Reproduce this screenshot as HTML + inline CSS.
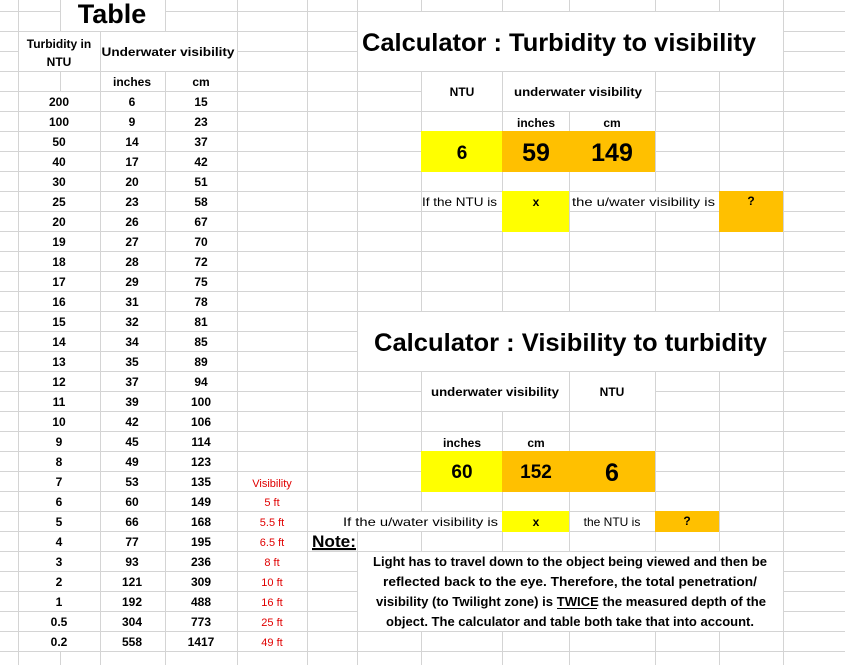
<!DOCTYPE html>
<html><head><meta charset="utf-8"><style>
html,body{margin:0;padding:0;background:#fff}
svg{display:block}
text{font-family:"Liberation Sans",Arial,sans-serif}
.b{font-weight:bold;font-size:12px;text-anchor:middle}
.r{font-size:11px;fill:#e00000;text-anchor:middle}
.n{font-size:12px}
</style></head><body>
<svg width="845" height="665" viewBox="0 0 845 665" xmlns="http://www.w3.org/2000/svg">
<defs>
<pattern id="h" x="0" y="11" width="845" height="20" patternUnits="userSpaceOnUse">
<rect x="0" y="0" width="845" height="1" fill="#d4d4d4"/>
</pattern>
</defs>
<rect width="845" height="665" fill="#fff"/>
<rect width="845" height="665" fill="url(#h)"/>
<g stroke="#d4d4d4" stroke-width="1">
<line x1="18.5" y1="0" x2="18.5" y2="665"/>
<line x1="60.5" y1="0" x2="60.5" y2="31"/>
<line x1="60.5" y1="71" x2="60.5" y2="91"/>
<line x1="60.5" y1="651" x2="60.5" y2="665"/>
<line x1="100.5" y1="31" x2="100.5" y2="665"/>
<line x1="165.5" y1="0" x2="165.5" y2="31"/>
<line x1="165.5" y1="71" x2="165.5" y2="665"/>
<line x1="237.5" y1="0" x2="237.5" y2="665"/>
<line x1="307.5" y1="0" x2="307.5" y2="665"/>
<line x1="357.5" y1="0" x2="357.5" y2="665"/>
<line x1="421.5" y1="0" x2="421.5" y2="665"/>
<line x1="502.5" y1="0" x2="502.5" y2="665"/>
<line x1="569.5" y1="0" x2="569.5" y2="665"/>
<line x1="655.5" y1="0" x2="655.5" y2="665"/>
<line x1="719.5" y1="0" x2="719.5" y2="665"/>
<line x1="783.5" y1="0" x2="783.5" y2="665"/>
</g>
<g fill="#fff">
<rect x="61" y="0" width="104" height="31"/>
<rect x="19" y="32" width="81" height="39"/>
<rect x="101" y="32" width="136" height="39"/>
<rect x="358" y="12" width="425" height="59"/>
<rect x="358" y="312" width="425" height="59"/>
<rect x="422" y="72" width="80" height="39"/>
<rect x="503" y="72" width="152" height="39"/>
<rect x="422" y="372" width="147" height="39"/>
<rect x="570" y="372" width="85" height="39"/>
<rect x="654" y="192" width="3" height="19"/>
<rect x="356" y="512" width="3" height="19"/>
<rect x="420" y="512" width="3" height="19"/>
<rect x="358" y="552" width="425" height="79"/>
</g>
<g>
<rect x="421" y="131" width="81" height="41" fill="#ffff00"/>
<rect x="502" y="131" width="153" height="41" fill="#ffc000"/>
<rect x="502" y="191" width="67" height="41" fill="#ffff00"/>
<rect x="719" y="191" width="64" height="41" fill="#ffc000"/>
<rect x="421" y="451" width="81" height="41" fill="#ffff00"/>
<rect x="502" y="451" width="153" height="41" fill="#ffc000"/>
<rect x="502" y="511" width="67" height="21" fill="#ffff00"/>
<rect x="655" y="511" width="64" height="21" fill="#ffc000"/>
</g>
<text x="112" y="23" style="font-weight:bold;font-size:27px;text-anchor:middle">Table</text>
<text x="59" y="48" class="b">Turbidity in</text>
<text x="59" y="66" class="b">NTU</text>
<text x="168" y="56" class="b" textLength="133" lengthAdjust="spacingAndGlyphs">Underwater visibility</text>
<text x="132" y="86" class="b">inches</text>
<text x="201" y="86" class="b">cm</text>
<g class="b">
<text x="59" y="106">200</text><text x="132" y="106">6</text><text x="201" y="106">15</text>
<text x="59" y="126">100</text><text x="132" y="126">9</text><text x="201" y="126">23</text>
<text x="59" y="146">50</text><text x="132" y="146">14</text><text x="201" y="146">37</text>
<text x="59" y="166">40</text><text x="132" y="166">17</text><text x="201" y="166">42</text>
<text x="59" y="186">30</text><text x="132" y="186">20</text><text x="201" y="186">51</text>
<text x="59" y="206">25</text><text x="132" y="206">23</text><text x="201" y="206">58</text>
<text x="59" y="226">20</text><text x="132" y="226">26</text><text x="201" y="226">67</text>
<text x="59" y="246">19</text><text x="132" y="246">27</text><text x="201" y="246">70</text>
<text x="59" y="266">18</text><text x="132" y="266">28</text><text x="201" y="266">72</text>
<text x="59" y="286">17</text><text x="132" y="286">29</text><text x="201" y="286">75</text>
<text x="59" y="306">16</text><text x="132" y="306">31</text><text x="201" y="306">78</text>
<text x="59" y="326">15</text><text x="132" y="326">32</text><text x="201" y="326">81</text>
<text x="59" y="346">14</text><text x="132" y="346">34</text><text x="201" y="346">85</text>
<text x="59" y="366">13</text><text x="132" y="366">35</text><text x="201" y="366">89</text>
<text x="59" y="386">12</text><text x="132" y="386">37</text><text x="201" y="386">94</text>
<text x="59" y="406">11</text><text x="132" y="406">39</text><text x="201" y="406">100</text>
<text x="59" y="426">10</text><text x="132" y="426">42</text><text x="201" y="426">106</text>
<text x="59" y="446">9</text><text x="132" y="446">45</text><text x="201" y="446">114</text>
<text x="59" y="466">8</text><text x="132" y="466">49</text><text x="201" y="466">123</text>
<text x="59" y="486">7</text><text x="132" y="486">53</text><text x="201" y="486">135</text>
<text x="59" y="506">6</text><text x="132" y="506">60</text><text x="201" y="506">149</text>
<text x="59" y="526">5</text><text x="132" y="526">66</text><text x="201" y="526">168</text>
<text x="59" y="546">4</text><text x="132" y="546">77</text><text x="201" y="546">195</text>
<text x="59" y="566">3</text><text x="132" y="566">93</text><text x="201" y="566">236</text>
<text x="59" y="586">2</text><text x="132" y="586">121</text><text x="201" y="586">309</text>
<text x="59" y="606">1</text><text x="132" y="606">192</text><text x="201" y="606">488</text>
<text x="59" y="626">0.5</text><text x="132" y="626">304</text><text x="201" y="626">773</text>
<text x="59" y="646">0.2</text><text x="132" y="646">558</text><text x="201" y="646">1417</text>
</g>
<g class="r">
<text x="272" y="487">Visibility</text>
<text x="272" y="506">5 ft</text>
<text x="272" y="526">5.5 ft</text>
<text x="272" y="546">6.5 ft</text>
<text x="272" y="566">8 ft</text>
<text x="272" y="586">10 ft</text>
<text x="272" y="606">16 ft</text>
<text x="272" y="626">25 ft</text>
<text x="272" y="646">49 ft</text>
</g>
<text x="362" y="51" style="font-weight:bold;font-size:25px" textLength="394" lengthAdjust="spacingAndGlyphs">Calculator : Turbidity to visibility</text>
<text x="462" y="96" class="b">NTU</text>
<text x="578" y="96" class="b" textLength="128" lengthAdjust="spacingAndGlyphs">underwater visibility</text>
<text x="536" y="127" class="b">inches</text>
<text x="612" y="127" class="b">cm</text>
<text x="462" y="159" style="font-weight:bold;font-size:19px;text-anchor:middle">6</text>
<text x="536" y="161" style="font-weight:bold;font-size:25px;text-anchor:middle">59</text>
<text x="612" y="161" style="font-weight:bold;font-size:25px;text-anchor:middle">149</text>
<text x="497" y="206" class="n" style="text-anchor:end" textLength="75" lengthAdjust="spacingAndGlyphs">If the NTU is</text>
<text x="536" y="206" class="b">x</text>
<text x="572" y="206" class="n" textLength="143" lengthAdjust="spacingAndGlyphs">the u/water visibility is</text>
<text x="751" y="205" class="b">?</text>
<text x="374" y="351" style="font-weight:bold;font-size:25px" textLength="393" lengthAdjust="spacingAndGlyphs">Calculator : Visibility to turbidity</text>
<text x="495" y="396" class="b" textLength="128" lengthAdjust="spacingAndGlyphs">underwater visibility</text>
<text x="612" y="396" class="b">NTU</text>
<text x="462" y="447" class="b">inches</text>
<text x="536" y="447" class="b">cm</text>
<text x="462" y="478" style="font-weight:bold;font-size:19px;text-anchor:middle">60</text>
<text x="536" y="478" style="font-weight:bold;font-size:19px;text-anchor:middle">152</text>
<text x="612" y="481" style="font-weight:bold;font-size:25px;text-anchor:middle">6</text>
<text x="498" y="526" class="n" style="text-anchor:end" textLength="155" lengthAdjust="spacingAndGlyphs">If the u/water visibility is</text>
<text x="536" y="526" class="b">x</text>
<text x="612" y="526" class="n" style="text-anchor:middle">the NTU is</text>
<text x="687" y="525" class="b">?</text>
<text x="312" y="547" style="font-weight:bold;font-size:17px;text-decoration:underline" textLength="44" lengthAdjust="spacingAndGlyphs">Note:</text>
<line x1="312" y1="549.5" x2="356" y2="549.5" stroke="#000" stroke-width="1.3"/>
<g style="font-weight:bold;font-size:12.5px">
<text x="373" y="566" textLength="394" lengthAdjust="spacingAndGlyphs">Light has to travel down to the object being viewed and then be</text>
<text x="383" y="586" textLength="374" lengthAdjust="spacingAndGlyphs">reflected back to the eye.  Therefore, the total penetration/</text>
<text x="376" y="606" textLength="390" lengthAdjust="spacingAndGlyphs">visibility (to Twilight zone) is TWICE the measured depth of the</text>
<text x="386" y="626" textLength="368" lengthAdjust="spacingAndGlyphs">object.  The calculator and table both take that into account.</text>
</g>
<line x1="557" y1="608.5" x2="597" y2="608.5" stroke="#000" stroke-width="1"/>
</svg>
</body></html>
